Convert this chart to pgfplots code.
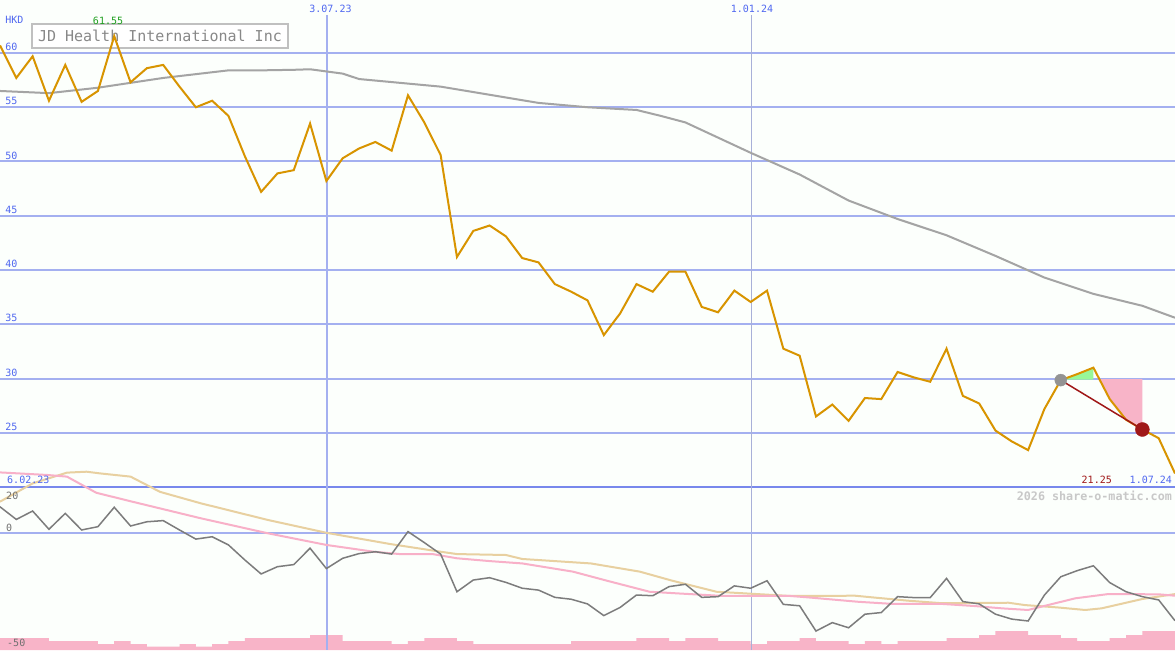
\documentclass[border=0pt]{standalone}
\usepackage{pgfplots}
\pgfplotsset{compat=1.18}
\usepackage{fontspec}
\setmainfont{DejaVu Sans Mono}
\newfontfamily\mono{DejaVu Sans Mono}

\definecolor{bg}{HTML}{FCFFFC}
\definecolor{gridc}{HTML}{A4B0F0}
\definecolor{sepc}{HTML}{7888EC}
\definecolor{vline2}{HTML}{A8B0D8}
\definecolor{tickc}{HTML}{5068F0}
\definecolor{pricec}{HTML}{D89400}
\definecolor{mac}{HTML}{A4A4A4}
\definecolor{oscc}{HTML}{7C7C7C}
\definecolor{beigec}{HTML}{E8D0A0}
\definecolor{pinkc}{HTML}{F8B0C8}
\definecolor{volc}{HTML}{F8B4C8}
\definecolor{darkred}{HTML}{A01818}
\definecolor{greenf}{HTML}{98F898}
\definecolor{greenlab}{HTML}{20A020}
\definecolor{titlec}{HTML}{888888}
\definecolor{boxc}{HTML}{C0C0C0}
\definecolor{wmc}{HTML}{C8C8C8}
\definecolor{botlab}{HTML}{707070}

% one axis unit = one pixel of the original
\pgfplotsset{
  panel/.style={width=1175pt, height=650pt, scale only axis, hide axis,
    xmin=0, xmax=72, clip=true},
  price axis/.style={panel, ymin=4.977, ymax=64.885},
  osc axis/.style={panel, ymin=-50, ymax=227.8},
}
\tikzset{lab/.style={inner sep=0pt, font=\mono\fontsize{10}{10}\selectfont}}

\begin{document}
\begin{tikzpicture}

% volume (bar heights in px)
\begin{axis}[panel, ymin=0, ymax=650]
\fill[bg] (rel axis cs:0,0) rectangle (rel axis cs:1,1);
\addplot[const plot, fill=volc, draw=none] coordinates {
 (0,12) (1,12) (2,12) (3,9) (4,9) (5,9) (6,6) (7,9) (8,6) (9,3.3)
 (10,3.3) (11,6) (12,3.3) (13,6) (14,9) (15,12) (16,12) (17,12) (18,12) (19,15)
 (20,15) (21,9) (22,9) (23,9) (24,6) (25,9) (26,12) (27,12) (28,9) (29,6)
 (30,6) (31,6) (32,6) (33,6) (34,6) (35,9) (36,9) (37,9) (38,9) (39,12)
 (40,12) (41,9) (42,12) (43,12) (44,9) (45,9) (46,6) (47,9) (48,9) (49,12)
 (50,9) (51,9) (52,6) (53,9) (54,6) (55,9) (56,9) (57,9) (58,12) (59,12)
 (60,15) (61,19) (62,19) (63,15) (64,15) (65,12) (66,9) (67,9) (68,12) (69,15)
 (70,19) (71,19) (72,19)
} \closedcycle;
\end{axis}

% grid of the price panel and date lines
\begin{axis}[price axis]
\pgfplotsinvokeforeach{25,30,35,40,45,50,55,60}{
  \draw[gridc, line width=2pt] (axis cs:0,#1) -- (axis cs:72,#1);
}
\draw[sepc, line width=2pt] (axis cs:0,20) -- (axis cs:72,20);
\draw[gridc, line width=2pt] (axis cs:20.04,63.5) -- (axis cs:20.04,4.977);
\draw[vline2, line width=1pt] (axis cs:46.02,63.5) -- (axis cs:46.02,4.977);
\end{axis}

% oscillator panel
\begin{axis}[osc axis]
\draw[gridc, line width=2pt] (axis cs:0,0) -- (axis cs:72,0);
\addplot[beigec, line width=2pt] coordinates {
 (0,13.4) (2.0,21.2) (4.1,25.8) (5.3,26.2) (6.1,25.5) (8.0,24.1) (9.8,17.6)
 (12.3,12.7) (16.4,5.6) (20.0,0.1) (23.9,-4.7) (27.0,-8.0) (28.0,-9.0)
 (31.0,-9.4) (32.0,-11.1) (36.2,-13.0) (39.2,-16.5) (41.2,-20.4) (43.9,-25.1)
 (46.4,-26.1) (48.4,-26.9) (52.4,-26.8) (53.6,-27.6) (55.6,-28.9) (57.7,-30.0)
 (61.8,-29.8) (62.8,-30.8) (64.8,-31.8) (66.5,-32.9) (67.5,-32.2) (70.0,-28.2)
 (72,-26.1)
};
\addplot[pinkc, line width=2pt] coordinates {
 (0,25.9) (2.9,24.8) (4.1,24.1) (5.9,17.2) (8.1,13.4) (12.3,6.3) (16.4,-0.1)
 (20.0,-5.1) (22.9,-8.0) (24.5,-9.0) (26.5,-9.0) (28.0,-10.8) (30.0,-12.0)
 (32.0,-13.0) (35.1,-16.5) (37.2,-20.4) (39.8,-25.1) (41.5,-25.8) (44.3,-26.9)
 (48.4,-26.9) (49.5,-27.5) (52.6,-29.4) (54.7,-30.3) (57.7,-30.3) (59.7,-31.2)
 (61.4,-32.2) (63.0,-32.9) (63.8,-31.5) (65.9,-27.9) (67.9,-26.1) (71.0,-26.2)
 (72,-26.8)
};
\addplot[oscc, line width=1.5pt] coordinates {
 (0,11.2) (1,5.8) (2,9.4) (3,1.6) (4,8.4) (5,1.3) (6,2.7) (7,11.0) (8,3.0) (9,4.8)
 (10,5.3) (11,1.3) (12,-2.6) (13,-1.6) (14,-5.1) (15,-11.5) (16,-17.5) (17,-14.4)
 (18,-13.5) (19,-6.5) (20,-15.2) (21,-10.8) (22,-8.8) (23,-8.0) (24,-9.0) (25,0.6)
 (26,-4.1) (27,-9.0) (28,-25.1) (29,-20.1) (30,-19.1) (31,-21.1) (32,-23.6)
 (33,-24.4) (34,-27.5) (35,-28.3) (36,-30.3) (37,-35.3) (38,-31.8) (39,-26.5)
 (40,-26.8) (41,-22.9) (42,-21.9) (43,-27.5) (44,-27.2) (45,-22.6) (46,-23.6)
 (47,-20.4) (48,-30.5) (49,-31.1) (50,-41.9) (51,-38.3) (52,-40.5) (53,-34.7)
 (54,-34.0) (55,-27.2) (56,-27.6) (57,-27.6) (58,-19.4) (59,-29.3) (60,-30.3)
 (61,-34.7) (62,-36.8) (63,-37.6) (64,-26.5) (65,-18.7) (66,-16.1) (67,-14.0)
 (68,-21.2) (69,-25.1) (70,-27.2) (71,-28.6) (72,-37.5)
};
\node[lab, anchor=west, text=botlab] at (axis cs:0.37,15.9) {20};
\node[lab, anchor=west, text=botlab] at (axis cs:0.37,2.1) {0};
\node[lab, anchor=west, text=botlab] at (axis cs:0.43,-46.9) {-50};
\node[inner sep=0pt, anchor=east, text=wmc,
  font=\mono\bfseries\fontsize{11.7}{12}\selectfont] at (axis cs:71.82,15.9) {2026 share-o-matic.com};
\end{axis}

% price panel
\begin{axis}[price axis]
\draw[boxc, fill=white, line width=2pt] (axis cs:1.96,62.67) rectangle (axis cs:17.65,60.46);
\node[inner sep=0pt, text=titlec, font=\mono\fontsize{15}{15}\selectfont]
  at (axis cs:9.8,61.57) {JD Health International Inc};
\addplot[mac, line width=2pt] coordinates {
 (0,56.5) (3,56.3) (6,56.8) (10,57.7) (14,58.4) (16,58.4) (18,58.45) (19,58.5)
 (21,58.1) (22,57.6) (27,56.9) (33,55.4) (36,55.0) (39,54.75) (40.5,54.2)
 (42,53.6) (46,50.8) (49,48.8) (52,46.4) (55,44.7) (58,43.2) (61,41.3)
 (64,39.3) (67,37.8) (70,36.7) (72,35.6)
};
\addplot[fill=greenf, draw=none] coordinates {(65,29.9) (66,30.4) (67,31.0) (67,29.9)} --cycle;
\addplot[fill=volc, draw=none] coordinates {(67.34,29.95) (70,29.95) (70,25.3) (69,26.2) (68,28.1)} --cycle;
\addplot[pricec, line width=2pt] coordinates {
 (0,60.7) (1,57.7) (2,59.7) (3,55.6) (4,58.9) (5,55.5) (6,56.5) (7,61.55) (8,57.3)
 (9,58.6) (10,58.9) (11,56.9) (12,55.0) (13,55.6) (14,54.2) (15,50.5) (16,47.2)
 (17,48.9) (18,49.2) (19,53.5) (20,48.2) (21,50.3) (22,51.2) (23,51.8) (24,51.0)
 (25,56.1) (26,53.6) (27,50.6) (28,41.2) (29,43.6) (30,44.1) (31,43.1) (32,41.1)
 (33,40.7) (34,38.7) (35,38.0) (36,37.2) (37,34.0) (38,36.0) (39,38.7) (40,38.0)
 (41,39.85) (42,39.85) (43,36.6) (44,36.1) (45,38.1) (46,37.05) (47,38.1)
 (48,32.75) (49,32.1) (50,26.5) (51,27.6) (52,26.1) (53,28.2) (54,28.1) (55,30.6)
 (56,30.1) (57,29.7) (58,32.75) (59,28.4) (60,27.7) (61,25.2) (62,24.2) (63,23.4)
 (64,27.2) (65,29.85) (66,30.4) (67,31.0) (68,28.1) (69,26.2) (70,25.3) (71,24.5)
 (72,21.25)
};
\addplot[darkred, line width=1.5pt] coordinates {(65,29.85) (70,25.3)};
\addplot[only marks, mark=*, mark size=6pt, mark options={fill=gray!85, draw=gray!85}]
  coordinates {(65,29.85)};
\addplot[only marks, mark=*, mark size=7pt, mark options={fill=darkred, draw=darkred}]
  coordinates {(70,25.3)};
% labels
\node[lab, anchor=west, text=tickc] at (axis cs:0.31,63.04) {HKD};
\pgfplotsinvokeforeach{25,30,35,40,45,50,55,60}{
  \node[lab, anchor=west, text=tickc] at (axis cs:0.31,#1.55) {#1};
}
\node[lab, text=greenlab] at (axis cs:6.62,62.95) {61.55};
\node[lab, text=tickc] at (axis cs:20.25,64.06) {3.07.23};
\node[lab, text=tickc] at (axis cs:46.08,64.06) {1.01.24};
\node[lab, anchor=west, text=tickc] at (axis cs:0.43,20.69) {6.02.23};
\node[lab, anchor=east, text=darkred] at (axis cs:68.14,20.69) {21.25};
\node[lab, anchor=east, text=tickc] at (axis cs:71.82,20.69) {1.07.24};
\end{axis}

\end{tikzpicture}
\end{document}
